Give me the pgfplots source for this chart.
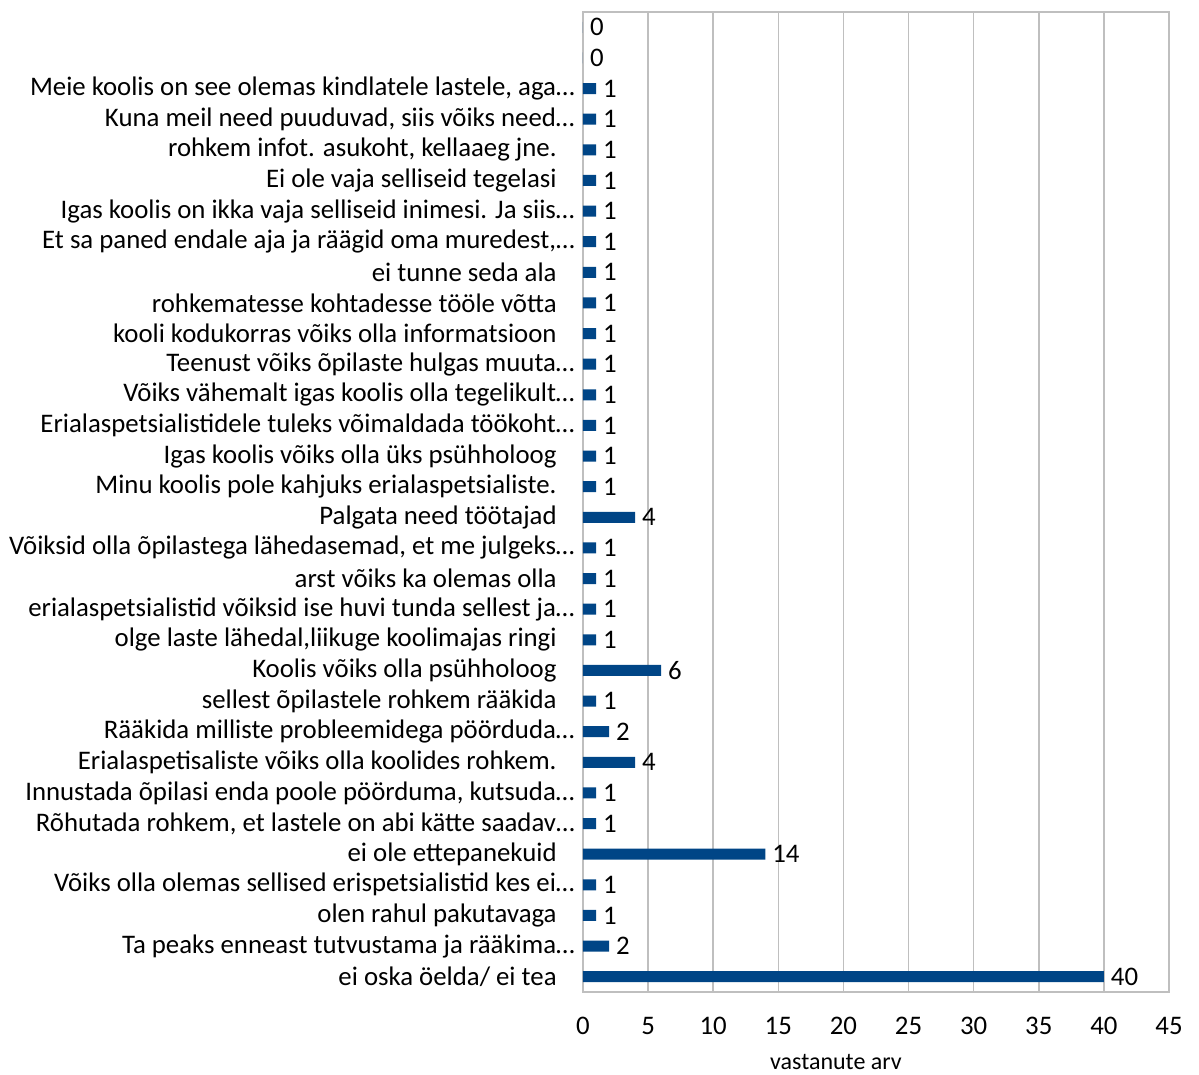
\documentclass[border=0pt]{standalone}
\usepackage{pgfplots}
\pgfplotsset{compat=1.18}
\usepackage{fontspec}
\setmainfont{Carlito}
\definecolor{barblue}{RGB}{0,69,134}
\definecolor{gridgray}{RGB}{191,191,191}
\newcommand{\p}{\kern9pt}
\begin{document}
\begin{tikzpicture}
\useasboundingbox (-291.5pt,-41.5pt) rectangle (308pt,496pt);
\begin{axis}[
  at={(0,0)}, anchor=south west,
  scale only axis, width=293pt, height=490pt,
  xbar, bar width=5.5pt,
  xmin=0, xmax=45, xtick={0,5,...,45},
  ymin=0.5, ymax=32.5, y dir=reverse,
  ytick={1,...,32},
  yticklabels={{},{},
  {Meie koolis on see olemas kindlatele lastele, aga…},
  {Kuna meil need puuduvad, siis võiks need…},
  {rohkem infot. asukoht, kellaaeg jne.\p},
  {Ei ole vaja selliseid tegelasi\p},
  {Igas koolis on ikka vaja selliseid inimesi. Ja siis…},
  {Et sa paned endale aja ja räägid oma muredest,…},
  {ei tunne seda ala\p},
  {rohkematesse kohtadesse tööle võtta\p},
  {kooli kodukorras võiks olla informatsioon\p},
  {Teenust võiks õpilaste hulgas muuta…},
  {Võiks vähemalt igas koolis olla tegelikult…},
  {Erialaspetsialistidele tuleks võimaldada töökoht…},
  {Igas koolis võiks olla üks psühholoog\p},
  {Minu koolis pole kahjuks erialaspetsialiste.\p},
  {Palgata need töötajad\p},
  {Võiksid olla õpilastega lähedasemad, et me julgeks…},
  {arst võiks ka olemas olla\p},
  {erialaspetsialistid võiksid ise huvi tunda sellest ja…},
  {olge laste lähedal,liikuge koolimajas ringi\p},
  {Koolis võiks olla psühholoog\p},
  {sellest õpilastele rohkem rääkida\p},
  {Rääkida milliste probleemidega pöörduda…},
  {Erialaspetisaliste võiks olla koolides rohkem.\p},
  {Innustada õpilasi enda poole pöörduma, kutsuda…},
  {Rõhutada rohkem, et lastele on abi kätte saadav…},
  {ei ole ettepanekuid\p},
  {Võiks olla olemas sellised erispetsialistid kes ei…},
  {olen rahul pakutavaga\p},
  {Ta peaks enneast tutvustama ja rääkima…},
  {ei oska öelda/ ei tea\p}},
  major tick length=0pt,
  tick style={draw=none},
  yticklabel style={font=\fontsize{13.4}{15}\selectfont, inner sep=0pt, xshift=-4pt},
  xticklabel style={font=\fontsize{13.4}{15}\selectfont, yshift=-9pt},
  /pgf/number format/assume math mode=true,
  xmajorgrids, grid style={gridgray, line width=0.8pt},
  axis line style={gridgray, line width=0.8pt},
  xlabel={vastanute arv},
  xlabel style={font=\fontsize{12}{14}\selectfont, yshift=-3pt, xshift=-20pt},
  nodes near coords,
  nodes near coords align=horizontal,
  every node near coord/.append style={font=\fontsize{13.4}{15}\selectfont, black, xshift=0pt},
]
\addplot[fill=barblue, draw=none] table[x=v, y=c] {
c v
1 0
2 0
3 1
4 1
5 1
6 1
7 1
8 1
9 1
10 1
11 1
12 1
13 1
14 1
15 1
16 1
17 4
18 1
19 1
20 1
21 1
22 6
23 1
24 2
25 4
26 1
27 1
28 14
29 1
30 1
31 2
32 40
};
\end{axis}
\end{tikzpicture}
\end{document}
